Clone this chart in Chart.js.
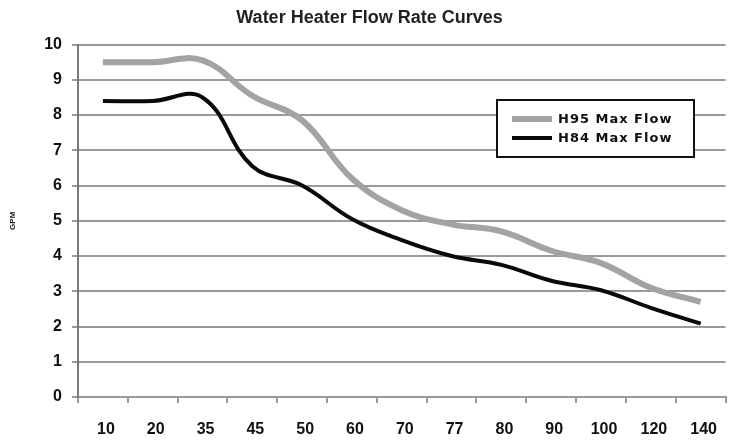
<!DOCTYPE html>
<html>
<head>
<meta charset="utf-8">
<script src="https://cdn.jsdelivr.net/npm/chart.js@4"></script>
<style>
  html, body { margin: 0; padding: 0; background: #fff; }
  #wrap { width: 731px; height: 440px; }
</style>
</head>
<body>
<div id="wrap"><canvas id="flowChart" width="731" height="440"></canvas></div>
<script>
const tempLabels = ['10', '20', '35', '45', '50', '60', '70', '77', '80', '90', '100', '120', '140'];
const h95Flow = [9.5, 9.5, 9.55, 8.55, 7.85, 6.2, 5.3, 4.9, 4.7, 4.15, 3.8, 3.1, 2.7];
const h84Flow = [8.4, 8.4, 8.5, 6.55, 6.0, 5.05, 4.45, 4.0, 3.75, 3.3, 3.03, 2.53, 2.08];
const yTicks = [0, 1, 2, 3, 4, 5, 6, 7, 8, 9, 10];

const FONT = "'Liberation Sans', Arial, sans-serif";

// legend box drawn inside the plot, like the original
const boxLegend = {
  id: 'boxLegend',
  afterDraw(chart) {
    const ctx = chart.ctx;
    const x = 497, y = 100, w = 197, h = 57;
    ctx.save();
    ctx.fillStyle = '#fff';
    ctx.fillRect(x, y, w, h);
    ctx.strokeStyle = '#111';
    ctx.lineWidth = 2;
    ctx.strokeRect(x, y, w, h);
    chart.data.datasets.forEach((ds, i) => {
      const ly = y + 19 + i * 19;
      ctx.beginPath();
      ctx.strokeStyle = ds.borderColor;
      ctx.lineWidth = ds.borderWidth;
      ctx.moveTo(x + 15, ly);
      ctx.lineTo(x + 55, ly);
      ctx.stroke();
      ctx.fillStyle = '#111';
      ctx.font = "bold 13px 'DejaVu Sans', sans-serif";
      ctx.letterSpacing = '1px';
      ctx.textBaseline = 'middle';
      ctx.fillText(ds.label, x + 61, ly + 1);
    });
    ctx.restore();
  }
};

new Chart(document.getElementById('flowChart'), {
  type: 'line',
  data: {
    labels: tempLabels,
    datasets: [
      { label: 'H95 Max Flow', data: h95Flow, borderColor: '#a3a3a3', borderWidth: 6, pointRadius: 0, tension: 0.4, fill: false },
      { label: 'H84 Max Flow', data: h84Flow, borderColor: '#0a0a0a', borderWidth: 4, pointRadius: 0, tension: 0.4, fill: false }
    ]
  },
  options: {
    responsive: false,
    animation: false,
    layout: { padding: { left: 8, right: 0, top: 0, bottom: 0 } },
    plugins: {
      legend: { display: false },
      tooltip: { enabled: false },
      title: {
        display: true,
        text: 'Water Heater Flow Rate Curves',
        color: '#222',
        font: { family: FONT, size: 18, weight: 'bold' },
        padding: { top: 7, bottom: 16 }
      }
    },
    scales: {
      x: {
        offset: true,
        grid: { offset: true, drawOnChartArea: false, drawTicks: true, tickLength: 6, color: '#9a9a9a', lineWidth: 2 },
        border: { color: '#9a9a9a', width: 2 },
        ticks: { color: '#111', padding: 17, labelOffset: 3, maxRotation: 0, autoSkip: false, font: { family: FONT, size: 16, weight: 'bold' } },
        afterFit(scale) { scale.height = 43; }
      },
      y: {
        min: 0,
        max: 10,
        afterBuildTicks(scale) { scale.ticks = yTicks.map(v => ({ value: v })); },
        grid: { color: '#9a9a9a', lineWidth: 2, tickLength: 6 },
        border: { color: '#7a7a7a', width: 2 },
        ticks: { color: '#111', padding: 10, font: { family: FONT, size: 16, weight: 'bold' } },
        title: { display: true, text: 'GPM', color: '#222', padding: { top: 0, bottom: 0 }, font: { family: FONT, size: 8, weight: 'bold' } },
        afterFit(scale) { scale.width = 70; }
      }
    }
  },
  plugins: [boxLegend]
});
</script>
</body>
</html>
